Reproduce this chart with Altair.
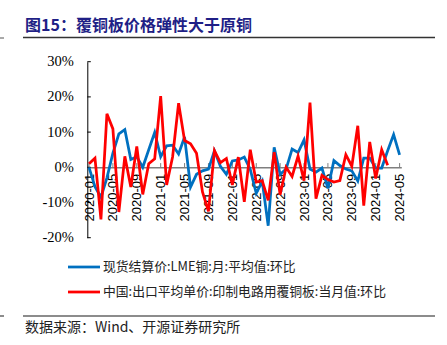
import altair as alt
import pandas as pd

# ---------------- data ----------------
months = [f"{y}-{m:02d}" for y in range(2020, 2025) for m in range(1, 13)][:53]

series_names = ["现货结算价:LME铜:月:平均值:环比",
                "中国:出口平均单价:印制电路用覆铜板:当月值:环比"]
series_colors = ["#0070C0", "#FF0000"]

lme_mom = [0, -5.5, -8.5, -3, 4, 9.5, 10.7, 2.2, 3, 0, 5, 9.9,
           3, 6.1, 6.3, 3.8, 8.6, -5.6, -2, -1, -0.5, 4.7, 0.3, -2,
           1.8, 2.1, 2.9, -0.6, -7.4, -4, -16.6, 5.7, -2, -0.5, 5.2, 4.2,
           7.8, -0.5, -1.4, -0.2, -6, 1.9, 0.5, -0.5, -1, -3.9, 2.6, 2.6,
           -0.2, -0.2, 4.7, 9.3, 3.5]

ccl_mom = [1, 2.6, -14.8, 15.2, 10.9, -12.7, 3.1, -5.6, 5.9, -7.7, 1, 2.4,
           20.2, -5, 3, 18.2, 7.6, 6.7, 4, -7, -12.5, 4.7, 1.3, 2.5,
           -5, 2.9, -9.8, 5, -4.2, -3.8, -9.4, 4.3, -7.8, 0, -2.6, 3.2,
           -3.8, 18.4, -8.9, -2.3, -3.5, -4.2, -3.8, 3.6, 0.3, 11.8, -10.9, 7.2,
           -3.2, 5, 0.6, None, None]

x_tick_labels = ["2020-01", "2020-05", "2020-09", "2021-01", "2021-05", "2021-09",
                 "2022-01", "2022-05", "2022-09", "2023-01", "2023-05", "2023-09",
                 "2024-01", "2024-05"]
y_ticks = [-20, -10, 0, 10, 20, 30]

title_text = "图15：覆铜板价格弹性大于原铜"
source_text = "数据来源：Wind、开源证券研究所"

# ---------------- tables ----------------
rows = []
for name, vals in zip(series_names, [lme_mom, ccl_mom]):
    for m, v in zip(months, vals):
        if v is not None:
            rows.append({"month": m, "value": v, "series": name})
df = pd.DataFrame(rows)
xt = pd.DataFrame({"month": x_tick_labels, "lo": 0.0, "hi": 1.2})
yt = pd.DataFrame({"value": y_ticks})

W, H = 314, 176
L, T = 87.3, 61.7

xscale = alt.Scale(type="point", padding=0.285)
yscale = alt.Scale(domain=[-20, 30], nice=False, zero=False)

x_axis = alt.Axis(values=x_tick_labels, labelAngle=270, title=None,
                  tickSize=0, domainColor="#7f7f7f", domainWidth=1.5,
                  offset=-H * 20 / 50, labelFont="Liberation Sans",
                  labelFontSize=13, labelColor="black", labelPadding=6,
                  labelOverlap=False, grid=False)
y_axis = alt.Axis(values=y_ticks, labelExpr="datum.value + '%'",
                  title=None, tickSize=0, grid=False, domainColor="black",
                  domainWidth=1, labelFont="Liberation Serif",
                  labelFontSize=14.5, labelPadding=14, labelColor="black")

lines = alt.Chart(df).mark_line(strokeWidth=2.75).encode(
    x=alt.X("month:O", scale=xscale, axis=x_axis),
    y=alt.Y("value:Q", scale=yscale, axis=y_axis),
    color=alt.Color("series:N", scale=alt.Scale(domain=series_names, range=series_colors),
                    legend=None),
)

xticks = alt.Chart(xt).mark_rule(color="#7f7f7f", strokeWidth=1).encode(
    x=alt.X("month:O", scale=xscale, axis=x_axis),
    y=alt.Y("lo:Q", scale=yscale, axis=y_axis),
    y2="hi:Q",
)

yticks = alt.Chart(yt).mark_rule(color="black", strokeWidth=1).encode(
    y=alt.Y("value:Q", scale=yscale, axis=y_axis),
    x=alt.value(0),
    x2=alt.value(3.5),
)

one = pd.DataFrame({"k": [0]})

title = alt.Chart(pd.DataFrame({"t": [title_text]})).mark_text(
    align="left", baseline="middle", font="Noto Sans CJK SC", fontWeight="bold",
    fontSize=16, color="#1f1f86").encode(
    text="t:N", x=alt.value(25 - L), y=alt.value(26 - T))

title_rule = alt.Chart(one).mark_rule(color="#333333", strokeWidth=1.3).encode(
    x=alt.value(23 - L), x2=alt.value(435 - L), y=alt.value(37.5 - T))
stub1 = alt.Chart(one).mark_rule(color="#555555", strokeWidth=1).encode(
    x=alt.value(0 - L), x2=alt.value(4 - L), y=alt.value(38 - T))

bottom_rule = alt.Chart(one).mark_rule(color="#8c8c8c", strokeWidth=2).encode(
    x=alt.value(23 - L), x2=alt.value(435 - L), y=alt.value(316 - T))
stub2 = alt.Chart(one).mark_rule(color="#8c8c8c", strokeWidth=2).encode(
    x=alt.value(0 - L), x2=alt.value(4 - L), y=alt.value(316 - T))

source = alt.Chart(pd.DataFrame({"t": [source_text]})).mark_text(
    align="left", baseline="middle", font="Noto Sans CJK SC", fontSize=14,
    color="#222222").encode(text="t:N", x=alt.value(25 - L), y=alt.value(328 - T))

legend_layers = []
for i, (name, col) in enumerate(zip(series_names, series_colors)):
    ly = 267 + 25 * i - T
    legend_layers.append(alt.Chart(one).mark_rule(color=col, strokeWidth=2.75).encode(
        x=alt.value(68 - L), x2=alt.value(100 - L), y=alt.value(ly)))
    legend_layers.append(alt.Chart(pd.DataFrame({"t": [name]})).mark_text(
        align="left", baseline="middle", font="Noto Sans CJK SC", fontSize=12.8,
        color="#222222").encode(text="t:N", x=alt.value(103 - L), y=alt.value(ly)))

chart = alt.layer(
    xticks, yticks, lines, title, title_rule, stub1, bottom_rule, stub2, source,
    *legend_layers
).properties(
    width=W, height=H,
    autosize=alt.AutoSizeParams(type="none"),
    padding={"left": L, "top": T, "right": 447 - L - W, "bottom": 345 - T - H},
    background="white",
).configure_view(stroke=None)

chart.save("out.html", embed_options={"renderer": "svg", "actions": False})
